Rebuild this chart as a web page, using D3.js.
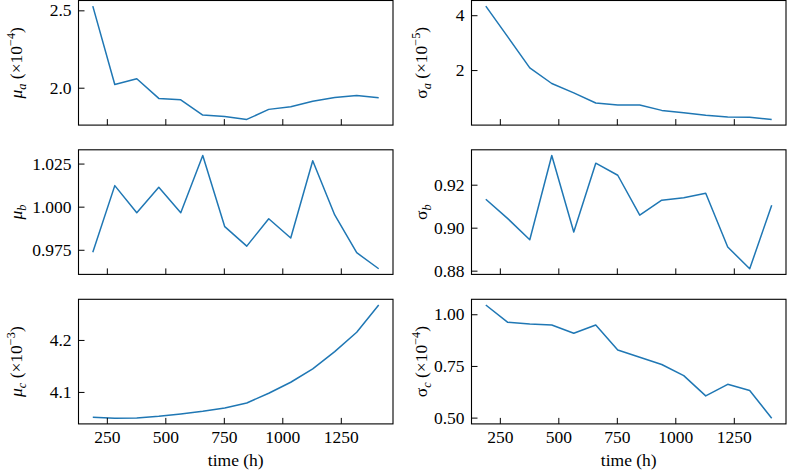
<!DOCTYPE html>
<html>
<head>
<meta charset="utf-8">
<script src="https://cdn.jsdelivr.net/npm/d3@7"></script>
<style>
  html, body { margin: 0; padding: 0; background: #fff; }
  svg { display: block; }
  text { font-family: "Liberation Serif", "Times New Roman", serif; fill: #000; }
</style>
</head>
<body>
<svg id="chart" width="787" height="470"></svg>
<script>
// ---- data ----
const times = [190, 284, 378, 472, 566, 660, 754, 848, 942, 1036, 1130, 1224, 1318, 1412];
const muA = [2.527, 2.021, 2.058, 1.931, 1.922, 1.823, 1.814, 1.795, 1.860, 1.877, 1.913, 1.937, 1.950, 1.935];
const sigmaA = [4.33, 3.21, 2.08, 1.51, 1.17, 0.80, 0.73, 0.73, 0.53, 0.44, 0.35, 0.29, 0.28, 0.20];
const muB = [0.9735, 1.0122, 0.9965, 1.0112, 0.9965, 1.0297, 0.9884, 0.9771, 0.9930, 0.9818, 1.0266, 0.9952, 0.9733, 0.9640];
const sigmaB = [0.9132, 0.9042, 0.8944, 0.9336, 0.8980, 0.9300, 0.9244, 0.9058, 0.9128, 0.9139, 0.9160, 0.8910, 0.8809, 0.9104];
const muC = [4.0513, 4.0494, 4.0500, 4.0532, 4.0577, 4.0628, 4.0692, 4.0788, 4.0974, 4.1186, 4.1442, 4.1776, 4.2147, 4.2673];
const sigmaC = [1.045, 0.961, 0.953, 0.948, 0.908, 0.948, 0.827, 0.792, 0.757, 0.703, 0.605, 0.661, 0.631, 0.497];

const xTicks = [250, 500, 750, 1000, 1250];
const yTicksMuA = [2.0, 2.5];
const yTicksSigmaA = [2, 4];
const yTicksMuB = [0.975, 1.000, 1.025];
const yTicksSigmaB = [0.88, 0.90, 0.92];
const yTicksMuC = [4.1, 4.2];
const yTicksSigmaC = [0.50, 0.75, 1.00];
const xLabel = "time (h)";

// ---- layout ----
const colX = [78.5, 471.5];
const panelW = [314.5, 314.5];
const rowY = [0.5, 149.8, 299.3];
const panelH = 124.6;
const color = "#1f77b4";
const fontSize = 17.5;
const tickLen = 6;

const panels = [
  {row: 0, col: 0, values: muA, ticks: yTicksMuA, fmt: d3.format(".1f"), sym: "μ", italic: true, sub: "a", exp: "−4"},
  {row: 0, col: 1, values: sigmaA, ticks: yTicksSigmaA, fmt: d3.format(".0f"), sym: "σ", italic: false, sub: "a", exp: "−5"},
  {row: 1, col: 0, values: muB, ticks: yTicksMuB, fmt: d3.format(".3f"), sym: "μ", italic: true, sub: "b", exp: null},
  {row: 1, col: 1, values: sigmaB, ticks: yTicksSigmaB, fmt: d3.format(".2f"), sym: "σ", italic: false, sub: "b", exp: null},
  {row: 2, col: 0, values: muC, ticks: yTicksMuC, fmt: d3.format(".1f"), sym: "μ", italic: true, sub: "c", exp: "−3"},
  {row: 2, col: 1, values: sigmaC, ticks: yTicksSigmaC, fmt: d3.format(".2f"), sym: "σ", italic: false, sub: "c", exp: "−4"}
];

const svg = d3.select("#chart");

function padExtent(arr) {
  const [lo, hi] = d3.extent(arr);
  const m = (hi - lo) * 0.05;
  return [lo - m, hi + m];
}

panels.forEach(p => {
  const x0 = colX[p.col], y0 = rowY[p.row], w = panelW[p.col], h = panelH;
  const x = d3.scaleLinear().domain(padExtent(times)).range([x0, x0 + w]);
  const y = d3.scaleLinear().domain(padExtent(p.values)).range([y0 + h, y0]);

  const g = svg.append("g");

  // line
  const line = d3.line().x((d, i) => x(times[i])).y(d => y(d));
  g.append("path")
    .datum(p.values)
    .attr("d", line)
    .attr("fill", "none")
    .attr("stroke", color)
    .attr("stroke-width", 1.5)
    .attr("stroke-linejoin", "round")
    .attr("stroke-linecap", "butt");

  // bottom axis (ticks inward)
  const xAxis = d3.axisBottom(x).tickValues(xTicks).tickFormat(d3.format("d"))
    .tickSizeInner(-tickLen).tickSizeOuter(0).tickPadding(7);
  const gx = g.append("g").attr("transform", `translate(0,${y0 + h})`).call(xAxis);
  gx.select(".domain").remove();
  gx.selectAll("line").attr("stroke", "#000").attr("stroke-width", 1);
  if (p.row === 2) {
    gx.selectAll("text").attr("font-size", fontSize).attr("font-family", "Liberation Serif").attr("fill", "#000");
  } else {
    gx.selectAll("text").remove();
  }

  // left axis (ticks inward)
  const yAxis = d3.axisLeft(y).tickValues(p.ticks).tickFormat(p.fmt).tickSizeInner(-tickLen).tickSizeOuter(0)
    .tickPadding(7);
  const gy = g.append("g").attr("transform", `translate(${x0},0)`).call(yAxis);
  gy.select(".domain").remove();
  gy.selectAll("line").attr("stroke", "#000").attr("stroke-width", 1);
  gy.selectAll("text").attr("font-size", fontSize).attr("font-family", "Liberation Serif").attr("fill", "#000")
    .attr("x", -7);

  // frame
  g.append("rect")
    .attr("x", x0).attr("y", y0).attr("width", w).attr("height", h)
    .attr("fill", "none").attr("stroke", "#000").attr("stroke-width", 1.1);

  // y label
  const lx = p.col === 0 ? 22 : 427;
  const ly = y0 + h / 2;
  const t = g.append("text")
    .attr("transform", `translate(${lx},${ly}) rotate(-90)`)
    .attr("text-anchor", "middle")
    .attr("font-size", fontSize);
  t.append("tspan").attr("font-style", p.italic ? "italic" : "normal").text(p.sym);
  t.append("tspan").attr("font-style", "italic").attr("font-size", fontSize * 0.7).attr("dy", 3.5).text(p.sub);
  if (p.exp) {
    t.append("tspan").attr("dy", -3.5).text(" (×10");
    t.append("tspan").attr("font-size", fontSize * 0.7).attr("dy", -7).text(p.exp);
    t.append("tspan").attr("dy", 7).text(")");
  }

  // x label
  if (p.row === 2) {
    g.append("text")
      .attr("x", x0 + w / 2).attr("y", 466)
      .attr("text-anchor", "middle")
      .attr("font-size", fontSize)
      .text(xLabel);
  }
});
</script>
</body>
</html>
